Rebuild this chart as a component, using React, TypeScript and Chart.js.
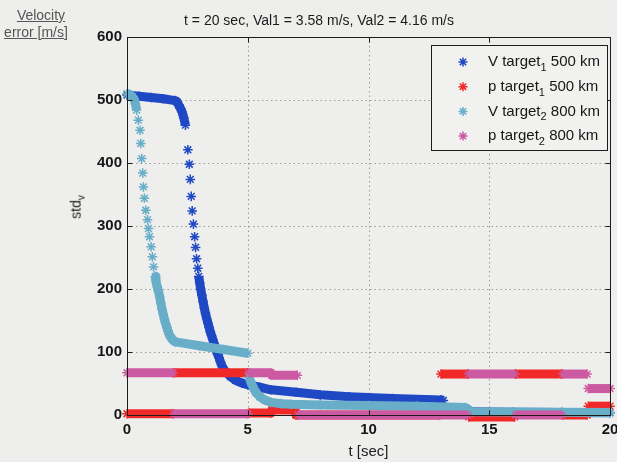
import { useEffect, useRef } from "react";
import { Chart, registerables } from "chart.js";

Chart.register(...registerables);

// V target 1, 500 km: sample time [s] and std of the velocity error [m/s]
const v1Time = [0, 0.5, 1.0, 1.5, 2.0, 2.07, 2.14, 2.21, 2.28, 2.35, 2.42, 2.52, 2.58, 2.62, 2.66, 2.7, 2.75, 2.8, 2.84, 2.88, 2.93, 2.97, 3.01, 3.05, 3.1, 3.15, 3.2, 3.25, 3.3, 3.35, 3.4, 3.45, 3.5, 3.55, 3.6, 3.65, 3.7, 3.75, 3.81, 3.87, 3.93, 4.0, 4.15, 4.29, 4.5, 4.75, 5.0, 5.5, 5.96, 7.0, 8.0, 9.2, 11.0, 13.0, 13.1, 13.2, 14.3, 16, 18, 20];
const v1Std = [508, 506, 504, 502, 499, 497, 492, 487, 481, 472, 460, 421, 398, 374, 347, 324, 303, 283, 266, 248, 233, 220, 210, 200, 190, 180, 170, 161, 153, 146, 139, 132, 126, 120, 114, 108, 102, 97, 91, 84, 78, 73, 66, 61, 55, 51, 48, 44, 40, 36, 32, 29, 26, 24, 23, 10, 5, 4.5, 4, 3.58];

// p target 1, 500 km
const p1Time = [0, 1.9, 1.95, 5.0, 5.05, 5.95, 6.0, 6.95, 7.0, 12.95, 13.0, 14.1, 14.15, 16.05, 16.1, 18.0, 18.05, 19.05, 19.1, 20];
const p1Std = [2, 2, 67, 67, 3, 3, 8, 8, 0, 0, 65, 65, -3, -3, 65, 65, 0, 0, 14, 14];

// V target 2, 800 km
const v2Time = [0, 0.1, 0.2, 0.3, 0.35, 0.4, 0.47, 0.54, 0.57, 0.61, 0.65, 0.68, 0.72, 0.78, 0.85, 0.89, 0.93, 1.0, 1.05, 1.1, 1.17, 1.2, 1.25, 1.3, 1.35, 1.4, 1.45, 1.5, 1.55, 1.6, 1.65, 1.7, 1.75, 1.8, 1.86, 1.93, 2.0, 3.0, 4.0, 5.0, 5.05, 5.15, 5.25, 5.35, 5.5, 5.7, 5.96, 6.4, 6.8, 8, 10, 12, 14, 14.3, 16, 18, 20];
const v2Std = [510, 509, 506, 501, 494, 484, 468, 452, 431, 407, 384, 362, 344, 325, 310, 296, 283, 267, 251, 235, 220, 212, 204, 197, 188, 178, 168, 160, 152, 145, 139, 133, 128, 124, 121, 118, 116, 110, 104, 98, 60, 50, 42, 35, 29, 24, 20, 18, 17, 16, 15, 14, 12, 5, 4.8, 4.5, 4.16];

// p target 2, 800 km
const p2Time = [0, 1.9, 1.95, 5.0, 5.05, 5.95, 6.0, 7.05, 7.1, 14.1, 14.15, 16.05, 16.1, 18.0, 18.05, 19.05, 19.1, 20];
const p2Std = [67, 67, 2, 2, 67, 67, 63, 63, 0, 0, 65, 65, 0, 0, 65, 65, 42, 42];

const seriesLabels = ["V target\u2081 500 km", "p target\u2081 500 km", "V target\u2082 800 km", "p target\u2082 800 km"];
const seriesColors = ["#1f48c4", "#f02828", "#68aec8", "#cc5aa2"];

const xTicks = [0, 5, 10, 15, 20];
const yTicks = [0, 100, 200, 300, 400, 500, 600];

const FONT = "'Liberation Sans', Arial, Helvetica, sans-serif";
const BG = "#eeeeec";

const toPoints = (t: number[], v: number[]) => t.map((x, i) => ({ x, y: v[i] }));

// draw the dotted grid, the axes box with inward ticks, and the legend box
const framePlugin = {
  id: "frame",
  beforeDatasetsDraw(chart: any) {
    const { ctx, chartArea: a, scales } = chart;
    ctx.save();
    ctx.strokeStyle = "rgba(110,110,110,0.65)";
    ctx.lineWidth = 1;
    ctx.setLineDash([1.5, 3]);
    for (const t of xTicks.slice(1, -1)) {
      const x = Math.round(scales.x.getPixelForValue(t)) + 0.5;
      ctx.beginPath();
      ctx.moveTo(x, a.top);
      ctx.lineTo(x, a.bottom);
      ctx.stroke();
    }
    for (const v of yTicks.slice(1, -1)) {
      const y = Math.round(scales.y.getPixelForValue(v)) + 0.5;
      ctx.beginPath();
      ctx.moveTo(a.left, y);
      ctx.lineTo(a.right, y);
      ctx.stroke();
    }
    ctx.restore();
  },
  afterDatasetsDraw(chart: any) {
    const { ctx, chartArea: a, scales } = chart;
    ctx.save();
    ctx.strokeStyle = "#1c1c1c";
    ctx.lineWidth = 1;
    ctx.setLineDash([]);
    const L = Math.round(a.left) + 0.5;
    const R = Math.round(a.right) + 0.5;
    const T = Math.round(a.top) + 0.5;
    const B = Math.round(a.bottom) + 0.5;
    ctx.strokeRect(L, T, R - L, B - T);
    const tl = 5;
    ctx.beginPath();
    for (const t of xTicks) {
      const x = Math.round(scales.x.getPixelForValue(t)) + 0.5;
      ctx.moveTo(x, B);
      ctx.lineTo(x, B - tl);
      ctx.moveTo(x, T);
      ctx.lineTo(x, T + tl);
    }
    for (const v of yTicks) {
      const y = Math.round(scales.y.getPixelForValue(v)) + 0.5;
      ctx.moveTo(L, y);
      ctx.lineTo(L + tl, y);
      ctx.moveTo(R, y);
      ctx.lineTo(R - tl, y);
    }
    ctx.stroke();

    // legend
    const bx = 431.5, by = 45.5, bw = 176, bh = 105;
    ctx.fillStyle = "#f1f1ef";
    ctx.fillRect(bx, by, bw, bh);
    ctx.strokeStyle = "#1c1c1c";
    ctx.strokeRect(bx, by, bw, bh);
    chart.data.datasets.forEach((ds: any, i: number) => {
      const cy = 62 + i * 24.7;
      ctx.save();
      ctx.strokeStyle = ds.borderColor;
      ctx.lineWidth = 1.5;
      const r = 4.5;
      ctx.beginPath();
      for (let k = 0; k < 4; k++) {
        const ang = (k * Math.PI) / 4;
        ctx.moveTo(463 - r * Math.cos(ang), cy - r * Math.sin(ang));
        ctx.lineTo(463 + r * Math.cos(ang), cy + r * Math.sin(ang));
      }
      ctx.stroke();
      ctx.restore();

      const m = /^(.*?)([\u2080-\u2089])(.*)$/.exec(ds.label);
      ctx.fillStyle = "#161616";
      ctx.textBaseline = "middle";
      ctx.textAlign = "left";
      let x = 488;
      if (m) {
        ctx.font = `15px ${FONT}`;
        ctx.fillText(m[1], x, cy);
        x += ctx.measureText(m[1]).width;
        ctx.font = `11px ${FONT}`;
        const sub = String.fromCharCode(m[2].charCodeAt(0) - 0x2080 + 48);
        ctx.fillText(sub, x, cy + 6);
        x += ctx.measureText(sub).width;
        ctx.font = `15px ${FONT}`;
        ctx.fillText(m[3], x, cy);
      } else {
        ctx.font = `15px ${FONT}`;
        ctx.fillText(ds.label, x, cy);
      }
    });
    ctx.restore();
  },
};

export default function App() {
  const canvasRef = useRef<HTMLCanvasElement | null>(null);

  useEffect(() => {
    const canvas = canvasRef.current;
    if (!canvas) return;

    const series = [
      toPoints(v1Time, v1Std),
      toPoints(p1Time, p1Std),
      toPoints(v2Time, v2Std),
      toPoints(p2Time, p2Std),
    ];

    const datasets = series.map((data, i) => ({
      label: seriesLabels[i],
      data,
      showLine: true,
      borderColor: seriesColors[i],
      backgroundColor: seriesColors[i],
      borderWidth: 9,
      borderCapStyle: "butt" as const,
      borderJoinStyle: "round" as const,
      tension: 0,
      pointStyle: "star" as const,
      pointRadius: 4.8,
      pointBorderWidth: 1.5,
      pointBorderColor: seriesColors[i],
      pointBackgroundColor: seriesColors[i],
      clip: false as const,
      // later series are drawn on top of earlier ones
      order: 4 - i,
      // isolated asterisks where the curve falls steeply, dense bands elsewhere
      segment: {
        borderColor: (c: any) => (Math.abs(c.p1.y - c.p0.y) > 8 ? "rgba(0,0,0,0)" : undefined),
      },
    }));

    const chart = new Chart(canvas, {
      type: "scatter",
      data: { datasets },
      options: {
        responsive: false,
        animation: false,
        devicePixelRatio: 1,
        layout: { padding: { top: 37, right: 7, left: 0, bottom: 0 } },
        plugins: {
          legend: { display: false },
          title: { display: false },
          tooltip: { enabled: false },
        },
        scales: {
          x: {
            type: "linear",
            min: 0,
            max: 20,
            grid: { display: false, drawTicks: false },
            border: { display: false },
            ticks: {
              color: "#161616",
              font: { family: FONT, size: 15, weight: "bold" },
              padding: 6,
              maxRotation: 0,
            },
            title: {
              display: true,
              text: "t [sec]",
              color: "#222",
              font: { family: FONT, size: 15 },
              padding: { top: 0, bottom: 1 },
            },
            afterBuildTicks: (s: any) => {
              s.ticks = xTicks.map((value) => ({ value }));
            },
            afterFit: (s: any) => {
              s.height = 47;
              s.paddingLeft = 0;
              s.paddingRight = 0;
            },
          },
          y: {
            type: "linear",
            min: 0,
            max: 600,
            grid: { display: false, drawTicks: false },
            border: { display: false },
            ticks: {
              color: "#161616",
              font: { family: FONT, size: 15, weight: "bold" },
              padding: 5,
            },
            afterBuildTicks: (s: any) => {
              s.ticks = yTicks.map((value) => ({ value }));
            },
            afterFit: (s: any) => {
              s.width = 127;
              s.paddingTop = 0;
              s.paddingBottom = 0;
            },
          },
        },
      },
      plugins: [framePlugin],
    });

    return () => chart.destroy();
  }, []);

  return (
    <div
      style={{
        position: "fixed",
        left: 0,
        top: 0,
        width: 617,
        height: 462,
        background: BG,
        fontFamily: FONT,
        overflow: "hidden",
      }}
    >
      <canvas ref={canvasRef} width={617} height={462} style={{ position: "absolute", left: 0, top: 0 }} />
      <div
        style={{
          position: "absolute",
          left: 319,
          top: 20,
          transform: "translate(-50%, -50%)",
          whiteSpace: "nowrap",
          fontSize: 14,
          color: "#1a1a1a",
        }}
      >
        t = 20 sec, Val1 = 3.58 m/s, Val2 = 4.16 m/s
      </div>
      <div
        style={{
          position: "absolute",
          left: 41,
          top: 15,
          transform: "translate(-50%, -50%)",
          whiteSpace: "nowrap",
          fontSize: 14,
          color: "#555",
          textDecoration: "underline",
        }}
      >
        Velocity
      </div>
      <div
        style={{
          position: "absolute",
          left: 36,
          top: 32,
          transform: "translate(-50%, -50%)",
          whiteSpace: "nowrap",
          fontSize: 14,
          color: "#555",
          textDecoration: "underline",
        }}
      >
        error [m/s]
      </div>
      <div
        style={{
          position: "absolute",
          left: 77,
          top: 207,
          transform: "translate(-50%, -50%) rotate(-90deg)",
          whiteSpace: "nowrap",
          fontSize: 14,
          color: "#1a1a1a",
        }}
      >
        std<sub style={{ fontSize: 10 }}>v</sub>
      </div>
    </div>
  );
}
